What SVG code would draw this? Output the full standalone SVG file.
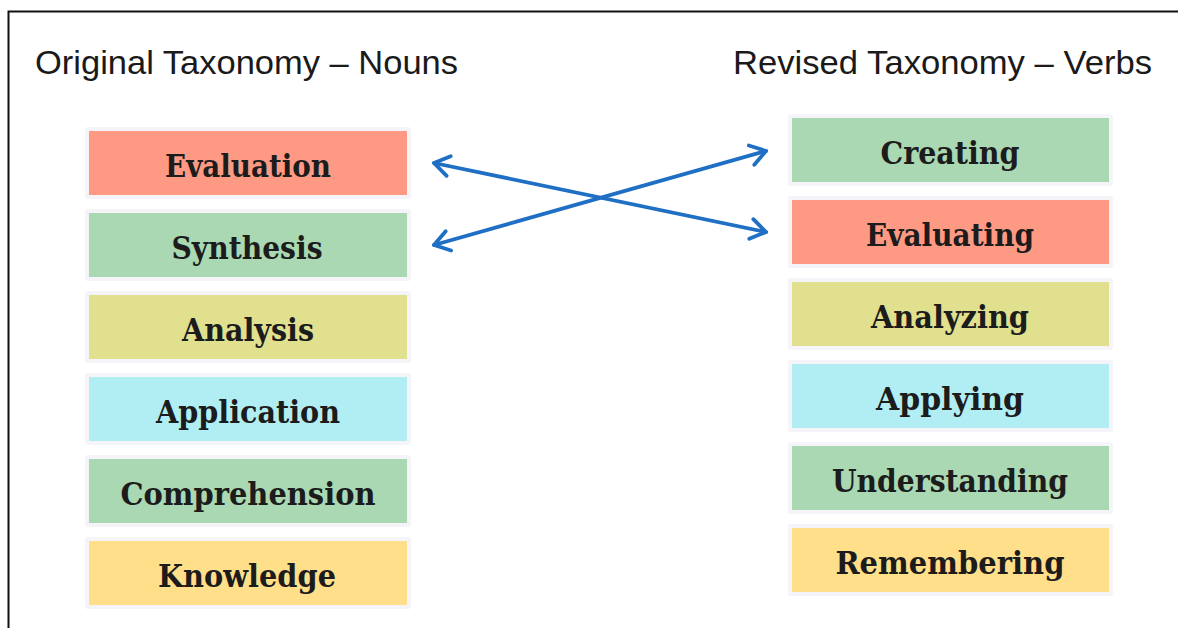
<svg xmlns="http://www.w3.org/2000/svg" width="1178" height="628" viewBox="0 0 1178 628">
<style>
.head{font-family:"Liberation Sans",Arial,sans-serif;font-size:34px;fill:#1a1a1a}
.lbl{font-family:"DejaVu Serif","Liberation Serif",serif;font-size:31px;font-weight:bold;fill:#1c1c1c;text-anchor:middle}
.halo{fill:#f5f5f9}
.red{fill:#fe9a84}
.grn{fill:#a9d8b2}
.olv{fill:#e0e08e}
.cyn{fill:#b1eef4}
.yel{fill:#ffdf8a}
.arr{stroke:#1f6fc4;stroke-width:3.8;fill:none;stroke-linecap:round}
</style>
<defs>
<marker id="chev" viewBox="-20 -13 23 26" markerWidth="23" markerHeight="26" refX="0" refY="0" markerUnits="userSpaceOnUse" orient="auto-start-reverse">
<path d="M -15 -10 L 0 0 L -15 10" fill="none" stroke="#1f6fc4" stroke-width="3.8" stroke-linecap="round" stroke-linejoin="round"/>
</marker>
</defs>
<rect width="1178" height="628" fill="#ffffff"/>
<path d="M 8.5 628 L 8.5 11.5 L 1178 11.5" fill="none" stroke="#111" stroke-width="2"/>
<text class="head" x="35" y="74" textLength="423" lengthAdjust="spacingAndGlyphs">Original Taxonomy – Nouns</text>
<text class="head" x="733" y="74" textLength="419" lengthAdjust="spacingAndGlyphs">Revised Taxonomy – Verbs</text>

<g id="evaluation"><rect class="halo" x="85" y="127" width="326" height="72" rx="3"/><rect class="red" x="89" y="131" width="318" height="64"/><text class="lbl" x="248" y="177" textLength="166" lengthAdjust="spacingAndGlyphs">Evaluation</text></g>
<g id="synthesis"><rect class="halo" x="85" y="209" width="326" height="72" rx="3"/><rect class="grn" x="89" y="213" width="318" height="64"/><text class="lbl" x="247" y="259" textLength="151" lengthAdjust="spacingAndGlyphs">Synthesis</text></g>
<g id="analysis"><rect class="halo" x="85" y="291" width="326" height="72" rx="3"/><rect class="olv" x="89" y="295" width="318" height="64"/><text class="lbl" x="248" y="341" textLength="132" lengthAdjust="spacingAndGlyphs">Analysis</text></g>
<g id="application"><rect class="halo" x="85" y="373" width="326" height="72" rx="3"/><rect class="cyn" x="89" y="377" width="318" height="64"/><text class="lbl" x="248" y="423" textLength="184" lengthAdjust="spacingAndGlyphs">Application</text></g>
<g id="comprehension"><rect class="halo" x="85" y="455" width="326" height="72" rx="3"/><rect class="grn" x="89" y="459" width="318" height="64"/><text class="lbl" x="248" y="505" textLength="255" lengthAdjust="spacingAndGlyphs">Comprehension</text></g>
<g id="knowledge"><rect class="halo" x="85" y="537" width="326" height="72" rx="3"/><rect class="yel" x="89" y="541" width="318" height="64"/><text class="lbl" x="247" y="587" textLength="178" lengthAdjust="spacingAndGlyphs">Knowledge</text></g>

<g id="creating"><rect class="halo" x="788" y="114" width="325" height="72" rx="3"/><rect class="grn" x="792" y="118" width="317" height="64"/><text class="lbl" x="950" y="164" textLength="139" lengthAdjust="spacingAndGlyphs">Creating</text></g>
<g id="evaluating"><rect class="halo" x="788" y="196" width="325" height="72" rx="3"/><rect class="red" x="792" y="200" width="317" height="64"/><text class="lbl" x="950" y="246" textLength="168" lengthAdjust="spacingAndGlyphs">Evaluating</text></g>
<g id="analyzing"><rect class="halo" x="788" y="278" width="325" height="72" rx="3"/><rect class="olv" x="792" y="282" width="317" height="64"/><text class="lbl" x="950" y="328" textLength="158" lengthAdjust="spacingAndGlyphs">Analyzing</text></g>
<g id="applying"><rect class="halo" x="788" y="360" width="325" height="72" rx="3"/><rect class="cyn" x="792" y="364" width="317" height="64"/><text class="lbl" x="950" y="410" textLength="148" lengthAdjust="spacingAndGlyphs">Applying</text></g>
<g id="understanding"><rect class="halo" x="788" y="442" width="325" height="72" rx="3"/><rect class="grn" x="792" y="446" width="317" height="64"/><text class="lbl" x="950" y="492" textLength="236" lengthAdjust="spacingAndGlyphs">Understanding</text></g>
<g id="remembering"><rect class="halo" x="788" y="524" width="325" height="72" rx="3"/><rect class="yel" x="792" y="528" width="317" height="64"/><text class="lbl" x="950" y="574" textLength="229" lengthAdjust="spacingAndGlyphs">Remembering</text></g>

<g id="connectors">
<line class="arr" x1="434" y1="163" x2="766" y2="232" marker-start="url(#chev)" marker-end="url(#chev)"/>
<line class="arr" x1="434" y1="245" x2="766" y2="151" marker-start="url(#chev)" marker-end="url(#chev)"/>
</g>
</svg>
